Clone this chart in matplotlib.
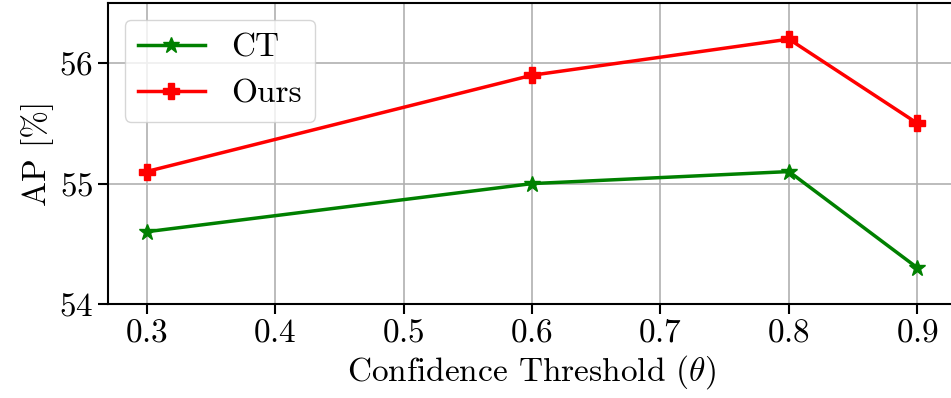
import numpy as np
import matplotlib.pyplot as plt

plt.rcParams['font.family'] = ['cmr10', 'DejaVu Serif']
plt.rcParams['mathtext.fontset'] = 'cm'
plt.rcParams['axes.formatter.use_mathtext'] = True

thresholds = [0.3, 0.6, 0.8, 0.9]
ct_ap = [54.6, 55.0, 55.1, 54.3]
ours_ap = [55.1, 55.9, 56.2, 55.5]
x_ticks = [0.3, 0.4, 0.5, 0.6, 0.7, 0.8, 0.9]
y_ticks = [54, 55, 56]

fig = plt.figure(figsize=(9.51, 3.98), dpi=100)
ax = fig.add_axes([108 / 951, 94 / 398, 848 / 951, 301 / 398])

ax.plot(thresholds, ct_ap, color='green', marker='*', markersize=12, linewidth=2.5, label='CT')
ax.plot(thresholds, ours_ap, color='red', marker='P', markersize=12, linewidth=2.5, label='Ours')

ax.set_xlim(0.27, 0.93)
ax.set_ylim(54, 56.5)
ax.set_xticks(x_ticks)
ax.set_yticks(y_ticks)
ax.grid(True, color='#b0b0b0', linewidth=1.2)
ax.tick_params(labelsize=24, length=7, width=1.5)
for s in ax.spines.values():
    s.set_linewidth(1.5)

ax.set_xlabel(r'Confidence Threshold ($\theta$)', fontsize=24, labelpad=4)
ax.set_ylabel('AP [%]', fontsize=24)
ax.legend(loc='upper left', fontsize=24)

fig.savefig('out.png', dpi=100)
